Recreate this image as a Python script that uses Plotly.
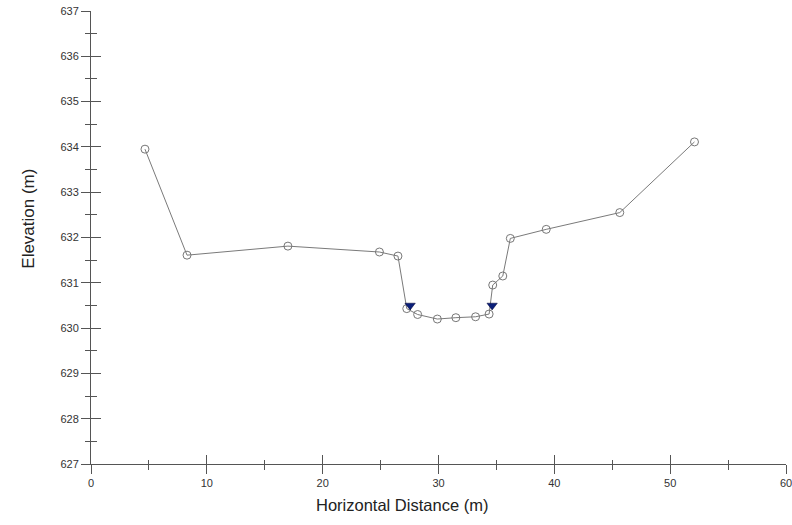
import plotly.graph_objects as go

station = [4.66, 8.29, 17.0, 24.9, 26.5, 27.26, 28.2, 29.9, 31.5, 33.2, 34.37, 34.68, 35.55, 36.2, 39.3, 45.65, 52.1]
elevation = [633.95, 631.61, 631.81, 631.68, 631.59, 630.43, 630.30, 630.20, 630.23, 630.25, 630.31, 630.95, 631.15, 631.98, 632.18, 632.55, 634.11]
ws_station = [27.55, 34.63]
ws_elev = [630.5, 630.5]

x_range = [0, 60]
y_range = [627, 637]

axcol = "#555555"
font = dict(family="Liberation Sans, Arial, sans-serif", size=11, color="#333333")
title_font = dict(family="Liberation Sans, Arial, sans-serif", size=16.5, color="#222222")
ytitle_font = dict(family="Liberation Sans, Arial, sans-serif", size=17, color="#222222")

fig = go.Figure()
fig.add_trace(go.Scatter(
    x=station, y=elevation, mode="lines+markers",
    line=dict(color="#7a7a7a", width=1),
    marker=dict(symbol="circle-open", size=8, color="#777777", line=dict(width=1)),
    hoverinfo="x+y", showlegend=False))
fig.add_trace(go.Scatter(
    x=ws_station, y=ws_elev, mode="markers",
    marker=dict(symbol="triangle-down", size=9, color="#0a1f7a", line=dict(color="#000033", width=0.5)),
    showlegend=False))
# invisible trace to instantiate overlay axes (inner half of crossing ticks)
fig.add_trace(go.Scatter(x=station, y=elevation, xaxis="x2", yaxis="y2", mode="markers",
                         marker=dict(opacity=0), hoverinfo="skip", showlegend=False))

fig.update_layout(
    width=792, height=525,
    margin=dict(l=91, r=6, t=11, b=61),
    paper_bgcolor="white", plot_bgcolor="white",
    font=font,
    xaxis=dict(range=x_range, dtick=10, tick0=0, showgrid=False, zeroline=False,
               showline=True, linecolor=axcol, linewidth=1, automargin=False,
               ticks="outside", ticklen=9, tickcolor=axcol, tickwidth=1,
               ticklabeloverflow="allow",
               minor=dict(dtick=5, ticks="outside", ticklen=5, tickcolor=axcol, showgrid=False),
               tickfont=font),
    yaxis=dict(range=y_range, dtick=1, tick0=627, showgrid=False, zeroline=False,
               showline=True, linecolor=axcol, linewidth=1, automargin=False,
               ticks="outside", ticklen=9, tickcolor=axcol, tickwidth=1,
               ticklabeloverflow="allow",
               minor=dict(dtick=0.5, ticks="outside", ticklen=5, tickcolor=axcol, showgrid=False),
               tickfont=font, ticklabelstandoff=0),
    xaxis2=dict(range=x_range, overlaying="x", anchor="y2", dtick=10, tick0=0, automargin=False,
                showgrid=False, zeroline=False, showline=False, showticklabels=False,
                ticks="inside", ticklen=9, tickcolor=axcol,
                minor=dict(dtick=5, ticks="inside", ticklen=4, tickcolor=axcol, showgrid=False)),
    yaxis2=dict(range=y_range, overlaying="y", anchor="x2", dtick=1, tick0=627, automargin=False,
                showgrid=False, zeroline=False, showline=False, showticklabels=False,
                ticks="inside", ticklen=10, tickcolor=axcol,
                minor=dict(dtick=0.5, ticks="inside", ticklen=6, tickcolor=axcol, showgrid=False)),
    annotations=[
        dict(text="Horizontal Distance (m)", xref="paper", yref="paper", x=0.4468, y=-0.0905,
             xanchor="center", yanchor="middle", showarrow=False, font=title_font),
        dict(text="Elevation (m)", xref="paper", yref="paper", x=-0.0892, y=0.5415,
             xanchor="center", yanchor="middle", showarrow=False, textangle=-90, font=ytitle_font),
    ],
)

fig.write_html("out.html", config={"displayModeBar": False},
               post_script="document.body.style.margin='0';document.body.style.overflow='hidden';")
